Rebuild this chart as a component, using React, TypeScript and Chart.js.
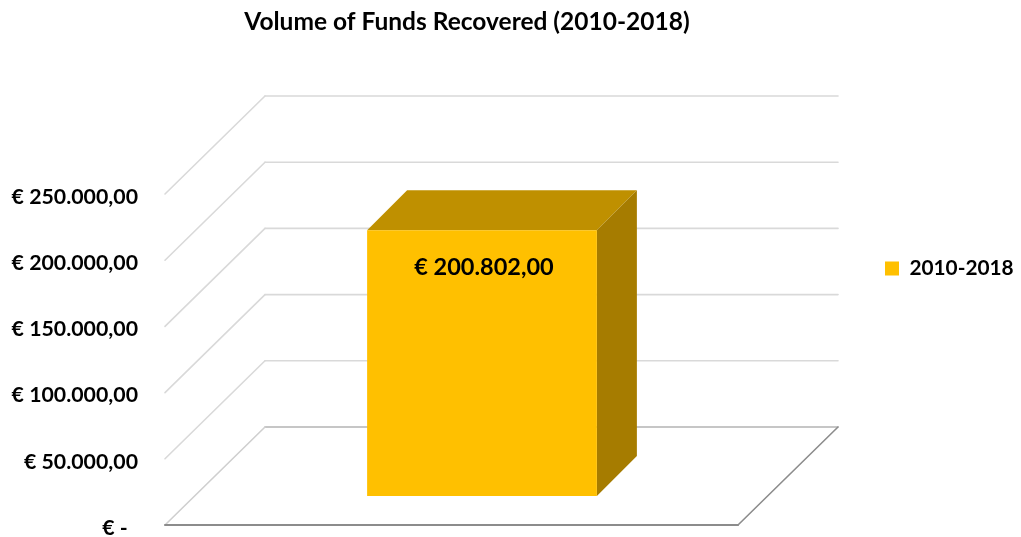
import React, { useEffect, useRef } from "react";
import { Chart, registerables } from "chart.js";

Chart.register(...registerables);

const chartTitle = "Volume of Funds Recovered (2010-2018)";
const categories = ["Total"];
const seriesLabel = "2010-2018";
const seriesValues = [200802];
const tickValues = [0, 50000, 100000, 150000, 200000, 250000];

const FONT = "Lato, Carlito, sans-serif";
const FACE = "#FFC000";
const TOP_FACE = "#BF9000";
const SIDE_FACE = "#A67C00";
const WALL_LINE = "#D9D9D9";
const FLOOR_LINE = "#8C8C8C";

// Oblique projection: depth of the room, of the gap before the bar, and of the bar itself.
const ROOM = { dx: 100, dy: -98 };
const BAR_INSET = { dx: 30.5, dy: -29 };
const BAR_DEPTH = { dx: 40, dy: -40 };

// Euro amounts in continental notation; zero is shown as a dash.
const euro = (v: number) => {
  if (v === 0) return "€ -\u00A0\u00A0";
  const whole = Math.round(v).toString().replace(/\B(?=(\d{3})+$)/g, ".");
  return `€ ${whole},00`;
};

const line = (ctx: any, x1: number, y1: number, x2: number, y2: number) => {
  ctx.beginPath();
  ctx.moveTo(x1, y1);
  ctx.lineTo(x2, y2);
  ctx.stroke();
};

const poly = (ctx: any, color: string, pts: number[][]) => {
  ctx.fillStyle = color;
  ctx.beginPath();
  pts.forEach(([x, y], i) => (i ? ctx.lineTo(x, y) : ctx.moveTo(x, y)));
  ctx.closePath();
  ctx.fill();
};

const boxPlacement = {
  id: "boxPlacement",
  afterLayout(chart: any) {
    const title = chart.titleBlock;
    title.left = 0;
    title.right = 934;
    const legend = chart.legend;
    legend.left = 885;
    legend.right = 885 + legend.width;
    legend.top = 258;
    legend.bottom = 258 + legend.height;
  },
};

const room3d = {
  id: "room3d",
  beforeDatasetsDraw(chart: any) {
    const { ctx, chartArea, scales } = chart;
    const { left, right } = chartArea;
    ctx.save();
    ctx.lineCap = "round";
    scales.y.ticks.forEach((_: any, i: number) => {
      const y = scales.y.getPixelForTick(i);
      const isFloor = i === 0;
      ctx.lineWidth = 1.6;
      ctx.strokeStyle = isFloor ? "#B4B4B4" : WALL_LINE;
      line(ctx, left + ROOM.dx, y + ROOM.dy, right + ROOM.dx, y + ROOM.dy);
      ctx.strokeStyle = isFloor ? "#CFCFCF" : WALL_LINE;
      line(ctx, left, y, left + ROOM.dx, y + ROOM.dy);
      if (isFloor) {
        ctx.strokeStyle = FLOOR_LINE;
        line(ctx, right, y, right + ROOM.dx, y + ROOM.dy);
        ctx.lineWidth = 2;
        line(ctx, left, y, right, y);
      }
    });
    ctx.restore();

    // Top and side faces of each bar, then shift the canvas so the front face lands in front of them.
    const bars = chart.getDatasetMeta(0).data;
    bars.forEach((bar: any) => {
      const x0 = bar.x - bar.width / 2 + BAR_INSET.dx;
      const x1 = bar.x + bar.width / 2 + BAR_INSET.dx;
      const yt = bar.y + BAR_INSET.dy;
      const yb = bar.base + BAR_INSET.dy;
      poly(ctx, TOP_FACE, [
        [x0, yt],
        [x0 + BAR_DEPTH.dx, yt + BAR_DEPTH.dy],
        [x1 + BAR_DEPTH.dx, yt + BAR_DEPTH.dy],
        [x1, yt],
      ]);
      poly(ctx, SIDE_FACE, [
        [x1, yt],
        [x1 + BAR_DEPTH.dx, yt + BAR_DEPTH.dy],
        [x1 + BAR_DEPTH.dx, yb + BAR_DEPTH.dy],
        [x1, yb],
      ]);
    });
    ctx.save();
    ctx.translate(BAR_INSET.dx, BAR_INSET.dy);
  },
  afterDatasetsDraw(chart: any) {
    const { ctx } = chart;
    ctx.restore();
    chart.getDatasetMeta(0).data.forEach((bar: any, i: number) => {
      ctx.save();
      ctx.font = `bold 23.5px ${FONT}`;
      ctx.fillStyle = "#000";
      ctx.textAlign = "center";
      ctx.textBaseline = "middle";
      ctx.fillText(euro(seriesValues[i]), bar.x + BAR_INSET.dx + 2, bar.y + BAR_INSET.dy + 37);
      ctx.restore();
    });
  },
};

export default function App() {
  const ref = useRef<HTMLCanvasElement>(null);

  useEffect(() => {
    document.body.style.margin = "0";
    const chart = new Chart(ref.current as HTMLCanvasElement, {
      type: "bar",
      data: {
        labels: categories,
        datasets: [
          {
            label: seriesLabel,
            data: seriesValues,
            backgroundColor: FACE,
            borderWidth: 0,
            barPercentage: 0.401,
            categoryPercentage: 1,
            clip: false,
          },
        ],
      },
      options: {
        responsive: false,
        animation: false,
        layout: { padding: { left: 0, right: 283, top: 0, bottom: 12 } },
        plugins: {
          tooltip: { enabled: false },
          title: {
            display: true,
            text: chartTitle,
            color: "#000",
            font: { family: FONT, size: 24.5, weight: "bold" },
            padding: { top: 7.3, bottom: 157.3 },
          },
          legend: {
            display: true,
            position: "chartArea",
            align: "start",
            labels: {
              boxWidth: 14,
              boxHeight: 14,
              padding: 0,
              color: "#000",
              font: { family: FONT, size: 20.8, weight: "bold" },
            },
          },
        },
        scales: {
          x: { display: false },
          y: {
            min: 0,
            max: 250000,
            afterFit: (scale: any) => {
              scale.width = 165;
              scale.paddingTop = 0;
              scale.paddingBottom = 0;
            },
            afterBuildTicks: (scale: any) => {
              scale.ticks = tickValues.map((value) => ({ value }));
            },
            grid: { display: false },
            border: { display: false },
            ticks: {
              padding: 19,
              labelOffset: 3,
              color: "#000",
              font: { family: FONT, size: 21.3, weight: "bold" },
              callback: (v: any) => euro(Number(v)),
            },
          },
        },
      },
      plugins: [boxPlacement, room3d],
    } as any);
    return () => chart.destroy();
  }, []);

  return <canvas ref={ref} width={1021} height={537} style={{ display: "block" }} />;
}
